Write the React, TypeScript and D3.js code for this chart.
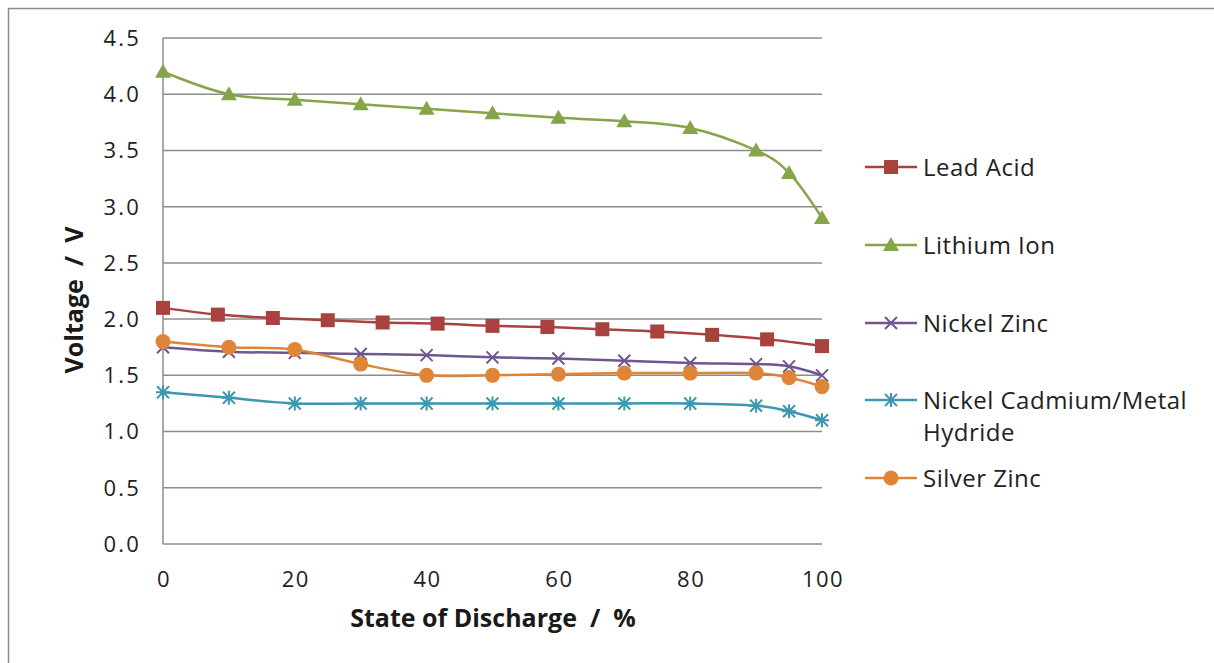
import * as React from "react";
import * as d3 from "d3";

// battery discharge curves
const leadX = [0, 8.33, 16.67, 25, 33.33, 41.67, 50, 58.33, 66.67, 75, 83.33, 91.67, 100];
const leadAcid = [2.1, 2.04, 2.01, 1.99, 1.97, 1.96, 1.94, 1.93, 1.91, 1.89, 1.86, 1.82, 1.76];

const stdX = [0, 10, 20, 30, 40, 50, 60, 70, 80, 90, 95, 100];
const lithiumIon = [4.2, 4.0, 3.95, 3.91, 3.87, 3.83, 3.79, 3.76, 3.7, 3.5, 3.3, 2.9];
const nickelZinc = [1.75, 1.71, 1.7, 1.69, 1.68, 1.66, 1.65, 1.63, 1.61, 1.6, 1.58, 1.5];
const nickelCadmium = [1.35, 1.3, 1.25, 1.25, 1.25, 1.25, 1.25, 1.25, 1.25, 1.23, 1.18, 1.1];
const silverZinc = [1.8, 1.75, 1.73, 1.6, 1.5, 1.5, 1.51, 1.52, 1.52, 1.52, 1.48, 1.4];

const yTicks = [0, 0.5, 1, 1.5, 2, 2.5, 3, 3.5, 4, 4.5];
const xTicks = [0, 20, 40, 60, 80, 100];

const series = [
  { name: ["Lead Acid"], xs: leadX, ys: leadAcid, color: "#A8423F", marker: "square" },
  { name: ["Lithium Ion"], xs: stdX, ys: lithiumIon, color: "#86A44A", marker: "triangle" },
  { name: ["Nickel Zinc"], xs: stdX, ys: nickelZinc, color: "#6F568F", marker: "x" },
  { name: ["Nickel Cadmium/Metal", "Hydride"], xs: stdX, ys: nickelCadmium, color: "#3E97B0", marker: "star" },
  { name: ["Silver Zinc"], xs: stdX, ys: silverZinc, color: "#DE8537", marker: "circle" },
];

const font = "'Open Sans', 'Noto Sans', sans-serif";

function Marker({ type, x, y, color }) {
  if (type === "square") {
    return <rect x={x - 7} y={y - 7} width={14} height={14} fill={color} />;
  }
  if (type === "triangle") {
    return <path d={`M${x},${y - 8}L${x + 8},${y + 6}L${x - 8},${y + 6}Z`} fill={color} />;
  }
  if (type === "circle") {
    return <circle cx={x} cy={y} r={7.5} fill={color} />;
  }
  if (type === "x") {
    return (
      <path
        d={`M${x - 6},${y - 6}L${x + 6},${y + 6}M${x - 6},${y + 6}L${x + 6},${y - 6}`}
        stroke={color}
        strokeWidth={2}
      />
    );
  }
  // asterisk
  return (
    <path
      d={`M${x},${y - 7}L${x},${y + 7}M${x - 6},${y - 6}L${x + 6},${y + 6}M${x - 6},${y + 6}L${x + 6},${y - 6}M${x - 7},${y}L${x + 7},${y}`}
      stroke={color}
      strokeWidth={2}
    />
  );
}

export default function App() {
  const width = 1214;
  const height = 663;

  const x = d3.scaleLinear().domain([0, 100]).range([163, 822]);
  const y = d3.scaleLinear().domain([0, 4.5]).range([544, 38]);

  const line = d3
    .line<number>()
    .curve(d3.curveCatmullRom.alpha(0));

  const legendY = [167, 245, 323, 400, 478];

  return (
    <svg
      width={width}
      height={height}
      style={{ position: "absolute", left: 0, top: 0, background: "#fff" }}
    >
      <rect x={8.5} y={8.5} width={1230} height={680} fill="#fff" stroke="#8c8c8c" strokeWidth={1.5} />

      {/* gridlines */}
      {yTicks.map((t) => (
        <line key={t} x1={x(0)} x2={x(100)} y1={y(t)} y2={y(t)} stroke="#8c8c8c" strokeWidth={1.5} />
      ))}
      <line x1={x(0)} x2={x(0)} y1={y(4.5)} y2={y(0)} stroke="#8c8c8c" strokeWidth={1.5} />

      {/* y tick labels */}
      {yTicks.map((t) => (
        <text
          key={t}
          x={141}
          y={y(t)}
          dy="0.36em"
          textAnchor="end"
          fontFamily={font}
          fontSize={22}
          letterSpacing={2.2}
          fill="#222"
        >
          {d3.format(".1f")(t)}
        </text>
      ))}

      {/* x tick labels */}
      {xTicks.map((t) => (
        <text
          key={t}
          x={x(t) + 1}
          y={587}
          textAnchor="middle"
          fontFamily={font}
          fontSize={22}
          letterSpacing={1.5}
          fill="#222"
        >
          {t}
        </text>
      ))}

      <text
        x={493}
        y={627}
        textAnchor="middle"
        fontFamily={font}
        fontSize={25}
        fontWeight="bold"
        fill="#1a1a1a"
        style={{ whiteSpace: "pre" }}
      >
        {"State of Discharge  /  %"}
      </text>
      <text
        transform="translate(83,300) rotate(-90)"
        textAnchor="middle"
        fontFamily={font}
        fontSize={25}
        fontWeight="bold"
        fill="#1a1a1a"
        style={{ whiteSpace: "pre" }}
      >
        {"Voltage  /  V"}
      </text>

      {/* series lines */}
      {series.map((s) => (
        <path
          key={s.name[0]}
          d={line(s.xs.map((v, i) => [x(v), y(s.ys[i])]))}
          fill="none"
          stroke={s.color}
          strokeWidth={2.5}
        />
      ))}
      {series.map((s) =>
        s.xs.map((v, i) => (
          <Marker key={s.name[0] + i} type={s.marker} x={x(v)} y={y(s.ys[i])} color={s.color} />
        ))
      )}

      {/* legend */}
      {series.map((s, i) => (
        <g key={"lg" + s.name[0]}>
          <line x1={865} x2={917} y1={legendY[i]} y2={legendY[i]} stroke={s.color} strokeWidth={2.5} />
          <Marker type={s.marker} x={891} y={legendY[i]} color={s.color} />
          {s.name.map((n, j) => (
            <text
              key={n}
              x={923}
              y={legendY[i] + j * 32}
              dy="0.36em"
              fontFamily={font}
              fontSize={24}
              letterSpacing={0.5}
              fill="#222"
            >
              {n}
            </text>
          ))}
        </g>
      ))}
    </svg>
  );
}
